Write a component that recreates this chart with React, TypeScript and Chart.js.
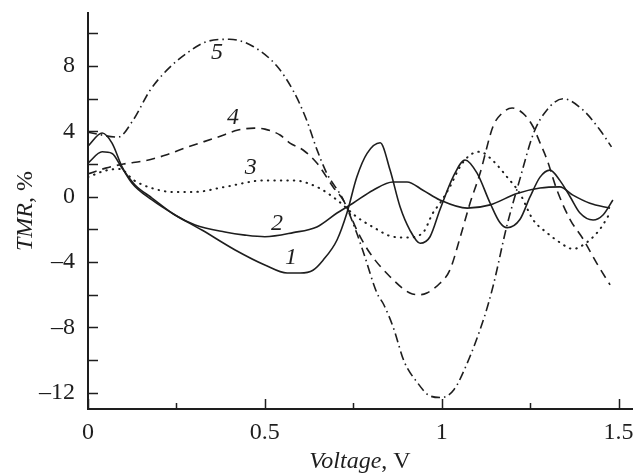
import React, { useEffect, useRef } from "react";
import { Chart, registerables } from "chart.js";

Chart.register(...registerables);

// Curve 1 (solid)
const c1V = [0, 0.04, 0.068, 0.096, 0.124, 0.181, 0.246, 0.322, 0.416, 0.5, 0.563, 0.6, 0.636, 0.664, 0.704, 0.732, 0.76, 0.789, 0.826, 0.854, 0.882, 0.91, 0.939, 0.967, 0.995, 1.032, 1.066, 1.1, 1.137, 1.165, 1.185, 1.221, 1.25, 1.278, 1.306, 1.334, 1.363, 1.391, 1.428, 1.456, 1.484];
const c1T = [3.1, 3.9, 3.28, 1.84, 0.84, -0.2, -1.12, -2.04, -3.26, -4.18, -4.67, -4.67, -4.5, -3.9, -2.65, -1.0, 1.2, 2.65, 3.3, 1.63, -0.6, -2.04, -2.85, -2.45, -0.8, 1.2, 2.25, 1.44, -0.4, -1.6, -1.9, -1.4, 0, 1.2, 1.63, 1.0, 0, -1.0, -1.43, -1.12, -0.2];

// Curve 2 (solid)
const c2V = [0, 0.04, 0.068, 0.096, 0.133, 0.181, 0.246, 0.303, 0.387, 0.444, 0.5, 0.58, 0.647, 0.704, 0.749, 0.806, 0.862, 0.902, 0.947, 0.995, 1.072, 1.137, 1.213, 1.278, 1.334, 1.371, 1.419, 1.476];
const c2T = [2.06, 2.75, 2.65, 1.76, 0.72, -0.08, -1.12, -1.73, -2.16, -2.35, -2.45, -2.2, -1.85, -1.0, -0.4, 0.4, 0.9, 0.9, 0.4, -0.2, -0.7, -0.5, 0.2, 0.53, 0.6, 0.1, -0.4, -0.7];

// Curve 3 (dotted)
const c3V = [0, 0.05, 0.09, 0.13, 0.18, 0.24, 0.3, 0.387, 0.5, 0.58, 0.647, 0.704, 0.76, 0.805, 0.862, 0.902, 0.947, 0.975, 0.995, 1.023, 1.052, 1.08, 1.108, 1.145, 1.185, 1.221, 1.258, 1.297, 1.334, 1.371, 1.41, 1.447, 1.476];
const c3T = [1.2, 1.6, 1.7, 1.0, 0.53, 0.29, 0.29, 0.6, 1.0, 1.0, 0.6, -0.2, -1.24, -1.85, -2.45, -2.5, -2.2, -1.0, -0.4, 0.6, 1.84, 2.55, 2.75, 2.2, 1.2, 0.2, -1.4, -2.2, -2.8, -3.2, -2.8, -2.0, -1.0];

// Curve 4 (dashed)
const c4V = [0, 0.05, 0.1, 0.16, 0.22, 0.274, 0.368, 0.424, 0.47, 0.5, 0.543, 0.571, 0.608, 0.647, 0.693, 0.727, 0.76, 0.797, 0.854, 0.91, 0.939, 0.958, 0.995, 1.023, 1.052, 1.08, 1.108, 1.145, 1.17, 1.199, 1.23, 1.258, 1.278, 1.298, 1.326, 1.363, 1.4, 1.439, 1.476];
const c4T = [1.4, 1.75, 2.0, 2.2, 2.55, 2.98, 3.66, 4.08, 4.2, 4.14, 3.78, 3.28, 2.86, 2.06, 0.6, -0.4, -2.04, -3.45, -4.9, -5.9, -6.0, -5.9, -5.3, -4.5, -2.5, -0.4, 1.4, 4.3, 5.1, 5.43, 5.1, 4.3, 3.3, 2.25, 0.4, -1.4, -2.6, -4.1, -5.4];

// Curve 5 (dash-dot)
const c5V = [0, 0.085, 0.128, 0.175, 0.223, 0.28, 0.336, 0.4, 0.467, 0.534, 0.58, 0.618, 0.647, 0.675, 0.722, 0.76, 0.78, 0.817, 0.836, 0.863, 0.894, 0.93, 0.967, 1.0, 1.035, 1.07, 1.12, 1.145, 1.184, 1.22, 1.26, 1.297, 1.343, 1.4, 1.447, 1.48];
const c5T = [3.95, 3.65, 4.7, 6.5, 7.75, 8.8, 9.5, 9.64, 9.2, 8.0, 6.5, 4.7, 2.9, 1.44, -0.2, -2.24, -3.5, -5.9, -6.6, -8.0, -10.1, -11.35, -12.2, -12.3, -11.8, -10.3, -7.4, -5.5, -1.8, 1.0, 3.9, 5.3, 6.0, 5.3, 4.1, 3.05];

const xTicks = [0, 0.5, 1, 1.5];
const xMinorTicks = [0.25, 0.75, 1.25];
const yTicks = [-12, -8, -4, 0, 4, 8];
const yMinorTicks = [-10, -6, -2, 2, 6, 10];

const curveLabels = ["1", "2", "3", "4", "5"];
const labelV = [0.574, 0.534, 0.46, 0.41, 0.365];
const labelT = [-3.75, -1.66, 1.76, 4.82, 8.8];

const INK = "#1e1e1e";
const FONT = "'Liberation Serif', 'Times New Roman', serif";

const pts = (v: number[], t: number[]) => v.map((x, i) => ({ x, y: t[i] }));

const fmt = (v: number) => (v < 0 ? "\u2013" + Math.abs(v) : String(v));

const overlay = {
  id: "overlay",
  afterDraw(chart: any) {
    const { ctx, chartArea } = chart;
    const xs = chart.scales.x;
    const ys = chart.scales.y;
    ctx.save();
    ctx.strokeStyle = INK;
    ctx.lineWidth = 1.5;
    ctx.beginPath();
    [...yTicks, ...yMinorTicks].forEach((v) => {
      const py = Math.round(ys.getPixelForValue(v)) + 0.5;
      ctx.moveTo(chartArea.left, py);
      ctx.lineTo(chartArea.left + 10, py);
    });
    xTicks.forEach((v) => {
      const px = Math.round(xs.getPixelForValue(v)) + 0.5;
      ctx.moveTo(px, chartArea.bottom);
      ctx.lineTo(px, chartArea.bottom - 10);
    });
    xMinorTicks.forEach((v) => {
      const px = Math.round(xs.getPixelForValue(v)) + 0.5;
      ctx.moveTo(px, chartArea.bottom);
      ctx.lineTo(px, chartArea.bottom - 6);
    });
    ctx.stroke();

    ctx.fillStyle = INK;
    ctx.font = `italic 24px ${FONT}`;
    ctx.textAlign = "center";
    ctx.textBaseline = "middle";
    curveLabels.forEach((s, i) => {
      ctx.fillText(s, xs.getPixelForValue(labelV[i]), ys.getPixelForValue(labelT[i]));
    });

    const cx = (chartArea.left + chartArea.right) / 2;
    ctx.textBaseline = "alphabetic";
    ctx.textAlign = "left";
    const it = "Voltage";
    const rest = ", V";
    ctx.font = `italic 24px ${FONT}`;
    const w1 = ctx.measureText(it).width;
    ctx.font = `24px ${FONT}`;
    const w2 = ctx.measureText(rest).width;
    const sx = cx - (w1 + w2) / 2;
    ctx.font = `italic 24px ${FONT}`;
    ctx.fillText(it, sx, 468);
    ctx.font = `24px ${FONT}`;
    ctx.fillText(rest, sx + w1, 468);

    const cy = (chartArea.top + chartArea.bottom) / 2;
    ctx.save();
    ctx.translate(32, cy);
    ctx.rotate(-Math.PI / 2);
    const yt1 = "TMR";
    const yt2 = ", %";
    ctx.font = `italic 24px ${FONT}`;
    const u1 = ctx.measureText(yt1).width;
    ctx.font = `24px ${FONT}`;
    const u2 = ctx.measureText(yt2).width;
    const s0 = -(u1 + u2) / 2;
    ctx.font = `italic 24px ${FONT}`;
    ctx.fillText(yt1, s0, 0);
    ctx.font = `24px ${FONT}`;
    ctx.fillText(yt2, s0 + u1, 0);
    ctx.restore();

    ctx.restore();
  },
};

export default function App() {
  const ref = useRef<HTMLCanvasElement | null>(null);
  useEffect(() => {
    document.body.style.margin = "0";
    const canvas = ref.current;
    if (!canvas) return;
    const base = {
      borderColor: INK,
      borderWidth: 1.6,
      pointRadius: 0,
      fill: false,
      showLine: true,
      cubicInterpolationMode: "monotone" as const,
    };
    const chart = new Chart(canvas, {
      type: "scatter",
      data: {
        datasets: [
          { ...base, label: "1", data: pts(c1V, c1T) },
          { ...base, label: "2", data: pts(c2V, c2T) },
          { ...base, label: "3", data: pts(c3V, c3T), borderDash: [0.5, 6], borderCapStyle: "round", borderWidth: 2 },
          { ...base, label: "4", data: pts(c4V, c4T), borderDash: [9, 6] },
          { ...base, label: "5", data: pts(c5V, c5T), borderDash: [9, 4, 1.5, 4] },
        ],
      },
      options: {
        responsive: false,
        animation: false,
        layout: { padding: { top: 13, right: 5, left: 0, bottom: 0 } },
        plugins: { legend: { display: false }, tooltip: { enabled: false } },
        scales: {
          x: {
            type: "linear",
            min: 0,
            max: 1.538,
            grid: { display: false },
            border: { display: true, color: INK, width: 2 },
            ticks: {
              font: { family: FONT, size: 24 },
              color: INK,
              padding: 1,
              maxRotation: 0,
              callback: (v: any) => fmt(Number(v)),
            },
            afterBuildTicks: (s: any) => {
              s.ticks = xTicks.map((v) => ({ value: v }));
            },
            afterFit: (s: any) => {
              s.height = 66;
              s.paddingLeft = 0;
              s.paddingRight = 0;
            },
          },
          y: {
            type: "linear",
            min: -13,
            max: 11.25,
            grid: { display: false },
            border: { display: true, color: INK, width: 2 },
            ticks: {
              font: { family: FONT, size: 24 },
              color: INK,
              padding: 5,
              callback: (v: any) => fmt(Number(v)),
            },
            afterBuildTicks: (s: any) => {
              s.ticks = yTicks.map((v) => ({ value: v }));
            },
            afterFit: (s: any) => {
              s.width = 88;
              s.paddingTop = 0;
              s.paddingBottom = 0;
            },
          },
        },
      },
      plugins: [overlay],
    });
    return () => chart.destroy();
  }, []);
  return <canvas ref={ref} width={637} height={475} style={{ display: "block" }} />;
}
